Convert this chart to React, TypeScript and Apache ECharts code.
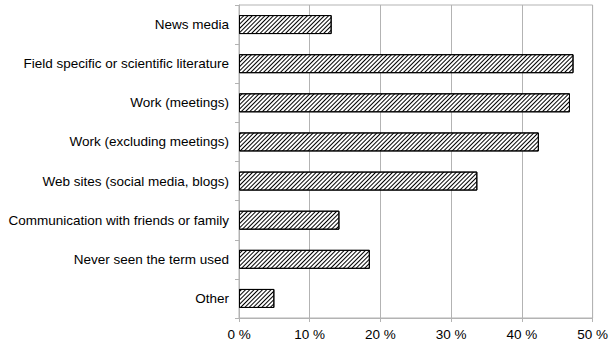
import React, { useEffect, useRef } from "react";
import * as echarts from "echarts";

const categories = [
  "News media",
  "Field specific or scientific literature",
  "Work (meetings)",
  "Work (excluding meetings)",
  "Web sites (social media, blogs)",
  "Communication with friends or family",
  "Never seen the term used",
  "Other",
];
const values = [13.1, 47.3, 46.8, 42.4, 33.7, 14.2, 18.5, 5.0];
const xTicks = [0, 10, 20, 30, 40, 50];

export default function App() {
  const ref = useRef<HTMLDivElement>(null);
  useEffect(() => {
    if (!ref.current) return;
    const chart = echarts.init(ref.current, null, { renderer: "svg" });
    const gray = "#b3b3b3";
    chart.setOption({
      animation: false,
      backgroundColor: "#ffffff",
      grid: {
        left: 239,
        right: 17,
        top: 5,
        bottom: 29,
        show: true,
        borderColor: gray,
        borderWidth: 1,
      },
      xAxis: {
        type: "value",
        min: xTicks[0],
        max: xTicks[xTicks.length - 1],
        interval: 10,
        axisLine: { show: true, lineStyle: { color: gray } },
        axisTick: { show: true, length: 4, lineStyle: { color: gray } },
        splitLine: { show: true, lineStyle: { color: gray } },
        axisLabel: {
          formatter: "{value} %",
          color: "#000",
          fontFamily: "Liberation Sans",
          fontSize: 13.5,
          margin: 9,
        },
      },
      yAxis: {
        type: "category",
        data: categories,
        inverse: true,
        axisLine: { show: true, lineStyle: { color: gray } },
        axisTick: { show: true, length: 4, lineStyle: { color: gray } },
        splitLine: { show: false },
        axisLabel: {
          color: "#000",
          fontFamily: "Liberation Sans",
          fontSize: 13.5,
          margin: 10,
        },
      },
      series: [
        {
          type: "bar",
          data: values,
          barWidth: 19,
          itemStyle: {
            color: "#ffffff",
            borderColor: "#000",
            borderWidth: 1,
            decal: {
              symbol: "rect",
              symbolSize: 1,
              color: "#000",
              backgroundColor: "#ffffff",
              dashArrayX: [1, 0],
              dashArrayY: [1, 2],
              rotation: -Math.PI / 4,
            },
          },
        },
      ],
    });
    return () => chart.dispose();
  }, []);
  return <div ref={ref} style={{ width: 611, height: 347, position: "absolute", left: 0, top: 0 }} />;
}
